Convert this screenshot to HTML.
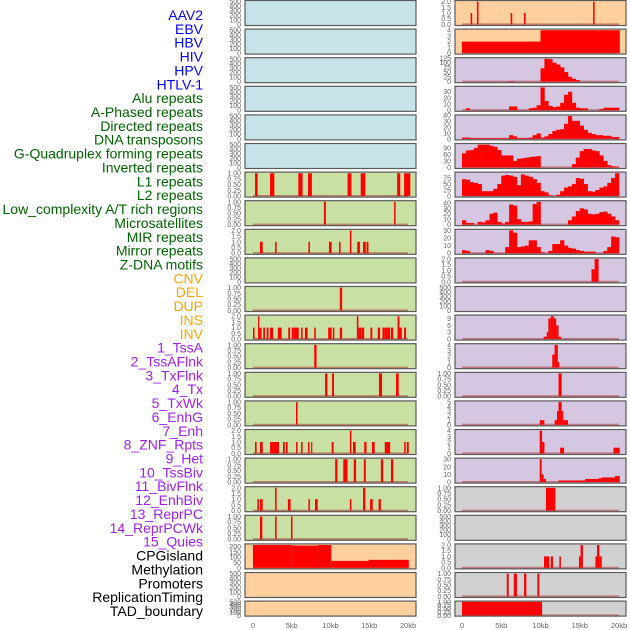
<!DOCTYPE html>
<html><head><meta charset="utf-8"><style>
html,body{margin:0;padding:0;background:#fff;}
svg{display:block;font-family:"Liberation Sans",sans-serif;}
</style></head><body>
<svg id="chart" width="630" height="630" viewBox="0 0 630 630"></svg>
<script>
// ---------- data ----------
const trackLabels = ["AAV2","EBV","HBV","HIV","HPV","HTLV-1","Alu repeats","A-Phased repeats","Directed repeats","DNA transposons","G-Quadruplex forming repeats","Inverted repeats","L1 repeats","L2 repeats","Low_complexity A/T rich regions","Microsatellites","MIR repeats","Mirror repeats","Z-DNA motifs","CNV","DEL","DUP","INS","INV","1_TssA","2_TssAFlnk","3_TxFlnk","4_Tx","5_TxWk","6_EnhG","7_Enh","8_ZNF_Rpts","9_Het","10_TssBiv","11_BivFlnk","12_EnhBiv","13_ReprPC","14_ReprPCWk","15_Quies","CPGisland","Methylation","Promoters","ReplicationTiming","TAD_boundary"];
const labelGroups = [6,13,5,15,5];
const groupColors = ["#0000ff","#006400","#ffa500","#a020f0","#000000"];
const xTickValues = [0,5,10,15,20];
const xTickLabels = ["0","5kb","10kb","15kb","20kb"];

const T1 = [[0,0.25,0.5,0.75,1],["0.00","0.25","0.50","0.75","1.00"]];
const T2 = [[0,0.5,1,1.5,2],["0.0","0.5","1.0","1.5","2.0"]];
const TE = [[0,100,200,300,400,500],["0","100","200","300","400","500"]];
const T4 = [[0,1,2,3,4],["0","1","2","3","4"]];
const T30 = [[0,10,20,30],["0","10","20","30"]];
const T40 = [[0,10,20,30,40],["0","10","20","30","40"]];

// left column: segments [startKb, endKb, value]
const leftSegs = [
 null,null,null,null,null,null,
 [[0.26,0.6,1],[2.2,2.75,1],[5.85,6.4,1],[7.1,7.6,1],[12.2,12.7,1],[13.9,14.5,1],[18.6,19,1],[19.5,20.3,1]],
 [[9.15,9.4,1],[18.2,18.4,1]],
 [[0.9,1.25,1],[2.85,3.05,1],[7.15,7.35,1],[9.8,10.15,1],[11.1,11.3,1],[12.5,12.7,2],[13.45,13.8,1],[14.2,14.55,1],[14.65,14.9,1]],
 null,
 [[11.2,11.5,1]],
 [[0,0.2,1],[0.65,0.8,2],[0.8,1.1,1],[1.33,1.55,1],[1.76,2.0,1],[2.2,2.6,1],[3.2,3.7,1],[4.55,4.8,1],[5.0,5.2,1],[5.2,5.55,1],[5.55,5.9,1],[6.2,6.4,1],[6.7,7.05,1],[7.9,8.1,1],[9.7,10.15,1],[10.3,10.5,1],[11.2,11.5,1],[13.4,13.6,2],[13.6,14.0,1],[14.05,14.35,1],[15.15,15.4,1],[16.1,16.4,1],[16.7,17.0,1],[17.0,17.4,1],[17.4,17.7,1],[17.8,18.1,1],[18.65,18.9,2],[18.9,19.2,1],[19.5,19.75,1]],
 [[7.9,8.2,1]],
 [[9.3,9.6,1],[10.2,10.45,1],[16.25,16.65,1],[18.45,18.8,1]],
 [[5.55,5.75,1]],
 [[0.26,0.47,1],[0.9,1.25,1],[2.2,2.6,1],[2.6,3.35,1],[3.87,4.1,1],[4.25,4.47,1],[5.55,5.75,1],[6.2,6.4,1],[7.1,7.3,1],[7.5,7.65,1],[10.15,10.4,1],[12.5,12.7,2],[12.9,13.25,1],[14.35,14.65,1],[15.35,15.7,1],[17.0,17.7,1],[19.5,19.7,1],[19.85,20.1,1]],
 [[10.6,10.9,1],[11.65,12.2,1],[13.0,13.3,1],[14.3,14.55,1],[16.5,16.8,1],[17.8,18.1,1]],
 [[0.56,0.77,1],[0.9,1.25,1],[2.85,3.05,2],[4.5,4.85,1],[7.15,7.35,1],[8.0,8.35,1],[12.5,12.7,1],[14.2,14.5,2],[15.1,15.45,1],[16.2,16.5,1]],
 [[0.9,1.2,1],[2.85,3.05,1],[4.9,5.1,1]],
 [[0,5,215],[5,8.4,210],[8.4,10.1,215],[10.1,14.9,65],[14.9,20.1,75]],
 null,null
];
const leftTicks = [TE,TE,TE,TE,TE,TE,T1,T1,T2,TE,T1,T2,T1,T1,T1,T2,T1,T2,T1,[[0,50,100,150,200],["0","50","100","150","200"]],TE,TE];

// right column: dense panels as 40 bins of 0.5kb
const hivBins = [0,0,0,0,0,0,0,0,0,0,0,0,3,0,0,0,0,0,0,0,70,120,118,100,90,75,50,25,15,8,0,0,0,0,0,0,0,0,0,0];
const hpvBins = [0,3,0,0,0,0,0,0,0,0,0,0,6,6,0,0,0,3,4,8,37,15,7,5,6,12,25,30,12,4,3,3,0,0,0,2,4,4,4,4];
const aluBins = [2,2,1,1,1,1,1,1,1,1,1,1,6,4,1,1,1,2,6,9,2,4,8,13,15,16,25,38,30,30,22,15,10,8,6,6,5,5,3,3];
const aphBins = [65,78,80,90,105,105,105,100,95,80,55,55,55,30,40,42,45,48,50,52,0,0,0,0,0,0,0,0,15,45,75,85,85,78,75,55,30,10,5,3];
const dirBins = [70,68,58,55,50,20,20,20,30,50,85,88,85,80,45,90,85,80,70,55,20,15,2,0,5,20,35,40,50,75,72,50,20,18,25,35,40,55,75,95];
const dnaBins = [8,3,3,0,5,4,8,20,22,5,2,5,37,35,10,5,5,6,38,42,0,0,0,0,0,0,0,8,15,25,30,28,20,19,20,23,24,20,15,8];
const gquBins = [4,3,0,0,0,0,4,3,0,0,0,8,30,27,8,9,10,17,17,8,1,0,3,12,12,17,10,7,6,4,3,2,2,2,0,0,3,8,22,21];
const rightData = [
 {segs:[[1.1,1.3,1],[1.9,2.1,2],[6.2,6.4,1],[7.9,8.1,1],[16.7,16.9,2]]},
 {segs:[[0,10,2],[10,20.1,4]]},
 {bins:hivBins},{bins:hpvBins},{bins:aluBins},{bins:aphBins},{bins:dirBins},{bins:dnaBins},{bins:gquBins},
 {segs:[[16.5,16.9,1.1],[16.9,17.4,2]]},
 null,
 {segs:[[10.4,10.8,1],[10.8,11.0,3],[11.0,11.3,9],[11.3,11.7,10],[11.7,12.0,9],[12.0,12.3,6],[12.3,12.6,1]]},
 {segs:[[11.5,11.8,2.3],[11.8,12.2,4],[12.2,12.4,1]]},
 {segs:[[12.3,12.7,1]]},
 {segs:[[9.9,10.5,1],[11.8,12.1,1],[12.1,12.3,3],[12.3,12.7,5],[12.7,12.9,3],[12.9,13.5,1]]},
 {segs:[[9.9,10.2,4],[10.2,10.5,2],[12.5,13.0,1],[19.3,20.1,1]]},
 {segs:[[9.9,10.15,30],[10.15,10.4,10],[10.4,10.7,4],[12.3,15.7,2],[15.7,17.4,4],[17.4,17.8,5],[17.8,19.5,6],[19.5,20.1,8]]},
 {segs:[[10.7,11.9,1]]},
 null,
 {segs:[[10.45,11.1,1],[11.3,11.6,1],[12.4,12.6,1],[14.9,15.1,1],[15.1,15.4,2],[17.0,17.2,1],[17.2,17.5,2],[17.5,17.8,1]]},
 {segs:[[5.7,5.95,1],[6.6,7.0,1],[7.9,8.2,1],[9.6,9.85,1]]},
 {segs:[[0,10.2,1]]}
];
const rightTicks = [T2,T4,[[0,25,50,75,100,125],["0","25","50","75","100","125"]],T30,T40,[[0,30,60,90],["0","30","60","90"]],[[0,25,50,75],["0","25","50","75"]],T40,T30,T2,TE,[[0,3,6,9],["0","3","6","9"]],T4,T1,[[0,1,2,3,4,5],["0","1","2","3","4","5"]],T4,T30,T1,TE,T2,T1,T1];

// ---------- drawing ----------
const NS = "http://www.w3.org/2000/svg";
const svg = document.getElementById("chart");
function mk(tag, attrs, parent){ const e=document.createElementNS(NS,tag); for(const k in attrs) e.setAttribute(k,attrs[k]); (parent||svg).appendChild(e); return e; }

const COLS = [{x0:245,x1:416,k0:253,k20:408,tx:241},{x0:455,x1:626,k0:462,k20:619,tx:451}];
function rowTop(i){ return 0.5 + i*28.6; }
function rowH(i){ return i===21 ? 15 : 25; }
function bgLeft(i){ return i<6 ? "#c7e3ea" : (i<19 ? "#c8e1a3" : "#ffcf9e"); }
function bgRight(i){ return i<2 ? "#ffcf9e" : (i<17 ? "#d5c6e2" : "#d1d1d1"); }

// labels
let li=0;
labelGroups.forEach((n,g)=>{ for(let j=0;j<n;j++,li++){
  const t = mk("text",{x:203,y:15+li*13.86+5,"text-anchor":"end","font-size":"14",fill:groupColors[g]});
  
  
  t.textContent = trackLabels[li];
}});

function drawPanel(col, i, bg, segs, bins, ticks){
  const c = COLS[col], top=rowTop(i), h=rowH(i);
  const g = mk("g",{});
  
  
  const xs = kb => c.k0 + (c.k20-c.k0)*kb/20;
  let ymax;
  if(segs){ ymax = Math.max(...segs.map(s=>s[2])); }
  else if(bins){ ymax = Math.max(...bins); }
  else { ymax = ticks[0][ticks[0].length-1]; }
  const lo=-0.05*ymax, hi=1.05*ymax;
  const ys = v => top + h - (v-lo)/(hi-lo)*h;
  const bgR = mk("rect",{x:c.x0,y:top,width:c.x1-c.x0,height:h,fill:bg},g);
  
  
  // ticks
  ticks[0].forEach((v,k)=>{
    const t = mk("text",{x:c.tx,y:ys(v)+2.5,"text-anchor":"end","font-size":"7",fill:"#666"},g);
    
    
    t.textContent = ticks[1][k];
  });
  if(segs||bins){
    const bl = mk("line",{x1:xs(0),x2:xs(20),y1:ys(0),y2:ys(0),stroke:"rgba(170,40,40,0.5)","stroke-width":2},g);
    
    
  }
  if(segs){ segs.forEach(s=>{
    const r = mk("rect",{x:xs(s[0]),y:ys(s[2]),width:Math.max(1.2,xs(s[1])-xs(s[0])),height:ys(0)-ys(s[2]),fill:"#ff0000"},g);
    
    
  });}
  if(bins){ bins.forEach((v,k)=>{ if(v<=0) return;
    const r = mk("rect",{x:xs(k*0.5),y:ys(v),width:xs(0.5)-xs(0)+0.3,height:ys(0)-ys(v),fill:"#ff0000"},g);
    
    
  });}
  const fr = mk("rect",{x:c.x0,y:top,width:c.x1-c.x0,height:h,fill:"none",stroke:"#5a5a5a","stroke-width":1.2},g);
  
  
}

for(let i=0;i<22;i++){
  drawPanel(0,i,bgLeft(i),leftSegs[i],null,leftTicks[i]);
  const rd = rightData[i];
  drawPanel(1,i,bgRight(i),rd?rd.segs:null,rd?rd.bins:null,rightTicks[i]);
}
// x axes
COLS.forEach((c,ci)=>{ xTickValues.forEach((v,k)=>{
  const t = mk("text",{x:c.k0+(c.k20-c.k0)*v/20,y:628,"text-anchor":"middle","font-size":"7.5",fill:"#666"});
  
  
  t.textContent = xTickLabels[k];
});});
</script>
</body></html>
